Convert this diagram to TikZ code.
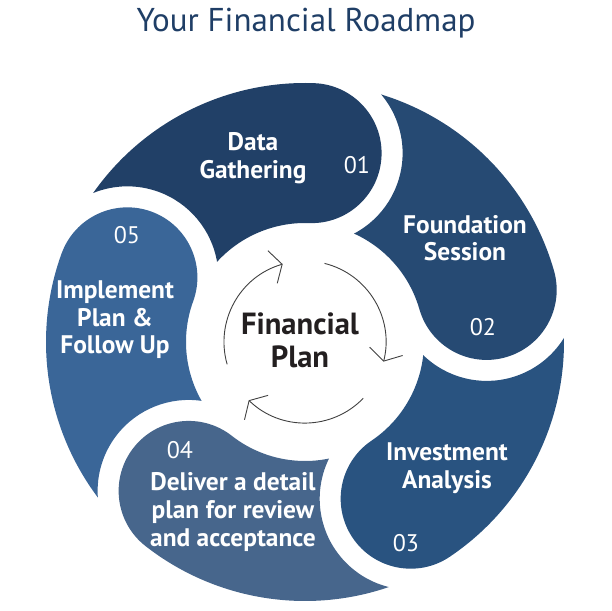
\documentclass[tikz,border=0pt]{standalone}
\usepackage{fontspec}
\setmainfont{PT Sans}
\usepackage{tikz}
\usetikzlibrary{arrows.meta}
\definecolor{roadtitle}{RGB}{31,62,102}
\definecolor{petalone}{RGB}{33,64,103}
\definecolor{petaltwo}{RGB}{38,74,115}
\definecolor{petalthree}{RGB}{41,83,128}
\definecolor{petalfour}{RGB}{71,102,140}
\definecolor{petalfive}{RGB}{58,102,152}
\definecolor{centertext}{RGB}{35,31,32}

\begin{document}
\begin{tikzpicture}[x=0.5pt, y=0.5pt,
  steptext/.style={text=white, align=center,
    font=\fontsize{12.7}{13.8}\selectfont\bfseries},
  stepnum/.style={text=white, font=\fontsize{12}{14}\selectfont},
  hubtext/.style={text=centertext, align=center,
    font=\fontsize{15.3}{16.5}\selectfont\bfseries},
  cyclearrow/.style={-{Straight Barb[length=5pt, width=17pt]},
    line width=0.45pt, draw=black!75}
]
\useasboundingbox (-305,-269) rectangle (307,342);
\node[text=roadtitle, font=\fontsize{16.5}{20}\selectfont, anchor=base] (title) at (1,310) {Your Financial Roadmap};
\foreach \a/\col in {88/petalone,16/petaltwo,-56/petalthree,-128/petalfour,160/petalfive} {
  \fill[\col] (\a+56.9:259) arc[start angle=\a+56.9, end angle=\a, radius=259]
    arc[start angle=\a, end angle=\a-180, radius=70]
    arc[start angle=\a, end angle=\a+49.65, radius=119]
    arc[start angle=\a+281.8, end angle=\a+384.15, radius=91] -- cycle;
}
\node[steptext] (s1) at (-52,184) {Data\\Gathering};
\node[stepnum] (n1) at (52,177) {01};
\node[steptext] (s2) at (160,104) {Foundation\\Session};
\node[stepnum] (n2) at (178,15) {02};
\node[steptext] (s3) at (142,-126) {Investment\\Analysis};
\node[stepnum] (n3) at (101,-201) {03};
\node[steptext] (s4) at (-72,-170) {Deliver a detail\\plan for review\\and acceptance};
\node[stepnum] (n4) at (-125,-108) {04};
\node[steptext] (s5) at (-190,22) {Implement\\Plan \&\\Follow Up};
\node[stepnum] (n5) at (-178,107) {05};
\node[hubtext] (hub) at (-5,2) {Financial\\Plan};
\draw[cyclearrow] (196:81) arc[start angle=196, end angle=106, radius=81];
\draw[cyclearrow] (76:81) arc[start angle=76, end angle=-14, radius=81];
\draw[cyclearrow] (-44:81) arc[start angle=-44, end angle=-134, radius=81];
\end{tikzpicture}
\end{document}
